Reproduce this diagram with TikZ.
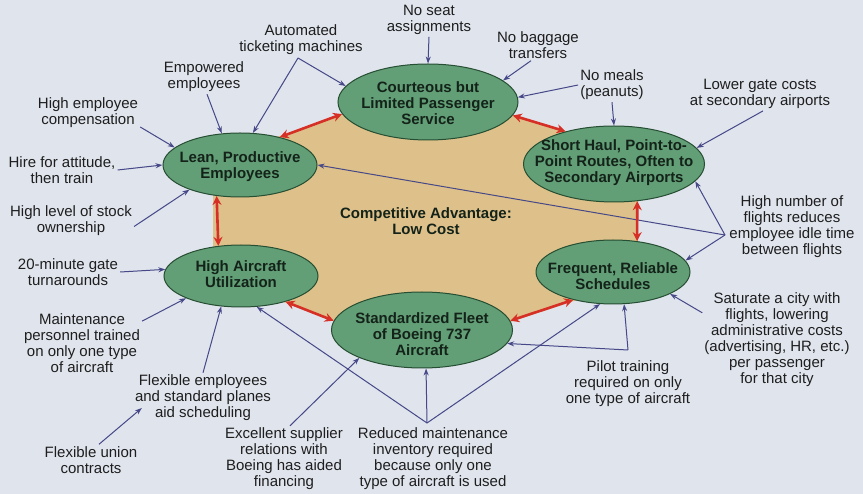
\documentclass[tikz,border=0pt]{standalone}
\usepackage{fontspec}
\setmainfont{Liberation Sans}
\usetikzlibrary{arrows.meta,shapes.geometric}
\definecolor{bgc}{RGB}{224,228,237}
\definecolor{tanc}{RGB}{222,193,138}
\definecolor{ellf}{RGB}{98,158,118}
\definecolor{elld}{RGB}{38,78,50}
\definecolor{redc}{RGB}{214,48,38}
\definecolor{bluec}{RGB}{70,72,135}
\definecolor{txtc}{RGB}{30,30,30}
\definecolor{ovtxt}{RGB}{20,35,25}
\tikzset{
 oval/.style={ellipse, draw=elld, fill=ellf, line width=1pt, inner sep=0pt},
 ovaltext/.style={font=\bfseries\fontsize{15}{16}\selectfont, align=center, text=ovtxt, inner sep=0pt},
 lbl/.style={font=\fontsize{15}{16}\selectfont, align=center, text=txtc, inner sep=2pt},
 link/.style={draw=bluec, line width=1pt, -{Stealth[length=7pt,width=5pt]}},
 dbl/.style={draw=redc, line width=2.6pt, {Stealth[length=9pt,width=9pt]}-{Stealth[length=9pt,width=9pt]}},
}
\begin{document}
\begin{tikzpicture}[x=1pt,y=-1pt]
\fill[bgc] (0,0) rectangle (863,494);
\useasboundingbox (0,0) rectangle (863,494);
\fill[tanc] (213,159) -- (421,87) -- (638,153) -- (638,280) -- (419,352) -- (213,276) -- cycle;

% ovals
\node[oval, minimum width=180pt, minimum height=76pt] (court) at (428,102) {};
\node[oval, minimum width=154pt, minimum height=64pt] (lean) at (240,165) {};
\node[oval, minimum width=181pt, minimum height=76pt] (shorth) at (614,164) {};
\node[oval, minimum width=154pt, minimum height=62pt] (high) at (241,276) {};
\node[oval, minimum width=154pt, minimum height=64pt] (freq) at (613,272) {};
\node[oval, minimum width=181pt, minimum height=76pt] (std) at (422,330) {};

\node[ovaltext] (courtT) at (428,103) {Courteous but\\Limited Passenger\\Service};
\node[ovaltext] (leanT) at (240,167) {Lean, Productive\\Employees};
\node[ovaltext] (shorthT) at (614,163) {Short Haul, Point-to-\\Point Routes, Often to\\Secondary Airports};
\node[ovaltext] (highT) at (241,274) {High Aircraft\\Utilization};
\node[ovaltext] (freqT) at (613,276) {Frequent, Reliable\\Schedules};
\node[ovaltext] (stdT) at (422,334) {Standardized Fleet\\of Boeing 737\\Aircraft};
\node[ovaltext] (cadv) at (426,221) {Competitive Advantage:\\Low Cost};

% labels
\node[lbl] (noseat) at (429,20) {No seat\\assignments};
\node[lbl] (auto) at (301,40) {Automated\\ticketing machines};
\coordinate (autoj) at (298,58);
\node[lbl] (emp) at (204,77) {Empowered\\employees};
\node[lbl] (hemp) at (88,113) {High employee\\compensation};
\node[lbl] (hire) at (62,170) {Hire for attitude,\\then train};
\node[lbl] (stock) at (71,221) {High level of stock\\ownership};
\node[lbl] (bag) at (538,45) {No baggage\\transfers};
\node[lbl] (meals) at (612,85) {No meals\\(peanuts)};
\node[lbl] (lower) at (760,94) {Lower gate costs\\at secondary airports};
\node[lbl] (hnum) at (792,227) {High number of\\flights reduces\\employee idle time\\between flights};
\coordinate (hnj) at (725,235);
\node[lbl] (gate) at (68,272) {20-minute gate\\turnarounds};
\node[lbl] (maint) at (82,343) {Maintenance\\personnel trained\\on only one type\\of aircraft};
\node[lbl] (flex) at (203,398) {Flexible employees\\and standard planes\\aid scheduling};
\node[lbl] (union) at (91,460) {Flexible union\\contracts};
\node[lbl] (supp) at (284,459) {Excellent supplier\\relations with\\Boeing has aided\\financing};
\node[lbl] (redmt) at (433,459) {Reduced maintenance\\inventory required\\because only one\\type of aircraft is used};
\coordinate (redj) at (427,423);
\node[lbl] (pilot) at (628,384) {Pilot training\\required on only\\one type of aircraft};
\coordinate (pilotj) at (628,350);
\node[lbl] (sat) at (777,340) {Saturate a city with\\flights, lowering\\administrative costs\\(advertising, HR, etc.)\\per passenger\\for that city};

% blue connectors
\draw[link] (noseat.south) -- (court.north);
\draw[link] (autoj) -- (court.169);
\draw[link] (autoj) -- (lean.68);
\draw[link] ([xshift=3pt]emp.south) -- (lean.120);
\draw[link] (hemp.-15) -- (lean.165);
\draw[link] (hire.east) -- (lean.west);
\draw[link] (stock.-5) -- (lean.206);
\draw[link] ([xshift=-7pt]bag.south) -- (court.16);
\draw[link] (meals.west) -- (court.3);
\draw[link] (meals.south) -- (shorth.north);
\draw[link] ([xshift=3pt]lower.south) -- (shorth.11);
\draw[link] (hnj) -- (shorth.-12);
\draw[link] (hnj) -- (freq.9);
\draw[link] (hnj) -- (lean.east);
\draw[link] (gate.east) -- (high.175);
\draw[link] (maint.20) -- (high.202);
\draw[link] (flex.north) -- (high.237);
\draw[link] ([xshift=8pt]union.north) -- ([xshift=9pt,yshift=-10pt]flex.west);
\draw[link] ([xshift=6pt]supp.north) -- (std.204);
\draw[link] (redj) -- (std.-84);
\draw[link] (redj) -- (high.-63);
\draw[link] (redj) -- (freq.248);
\draw[link] (pilotj) -- (freq.-71);
\draw[link] (pilotj) -- (std.-9);
\draw[link] (sat.160) -- (freq.-21);

% red double arrows
\draw[dbl] (lean.35) -- (court.188);
\draw[dbl] (court.-9) -- (shorth.146);
\draw[dbl] (shorth.-58) -- (freq.52);
\draw[dbl] (freq.215) -- (std.6);
\draw[dbl] (std.174) -- (high.-30);
\draw[dbl] (high.127) -- (lean.233);
\end{tikzpicture}
\end{document}
